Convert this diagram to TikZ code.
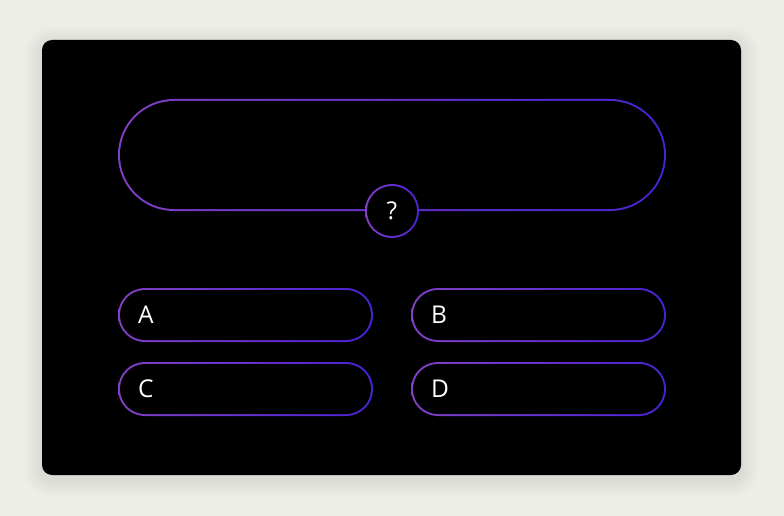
\documentclass[tikz,border=0pt]{standalone}
\usepackage{fontspec}
\setmainfont{Open Sans}
\usetikzlibrary{shapes.misc}
\definecolor{pagebg}{HTML}{EEEEE8}
\definecolor{glowleft}{HTML}{8240C6}
\definecolor{glowright}{HTML}{4A22D4}

\begin{document}
\begin{tikzpicture}[x=1pt,y=-1pt]
  \tikzstyle{rim}=[rounded rectangle,inner sep=0pt,left color=glowleft,right color=glowright]
  \tikzstyle{hole}=[rounded rectangle,inner sep=0pt,fill=black]
  \tikzstyle{answer rim}=[rim,minimum width=255pt,minimum height=54pt]
  \tikzstyle{answer}=[hole,minimum width=251pt,minimum height=50pt]
  \tikzstyle{letter}=[text=white,inner sep=0pt,font=\fontsize{24.5}{24.5}\selectfont]

  \useasboundingbox[fill=pagebg] (0,0) rectangle (784,516);
  % card with soft shadow
  \foreach \d in {2,4,...,18}
    \fill[black,opacity=0.006,rounded corners=10pt+\d pt] (42-\d,40-\d+4) rectangle (741+\d,475+\d+4);
  \fill[black,rounded corners=10pt] (42,40) rectangle (741,475);

  % question
  \node[rim,minimum width=548pt,minimum height=112pt] (question rim) at (392,155) {};
  \node[hole,minimum width=544pt,minimum height=108pt] (question) at (question rim) {};
  \node[circle,inner sep=0pt,minimum size=54pt,left color=glowleft,right color=glowright] (mark rim) at (392,211) {};
  \node[circle,inner sep=0pt,minimum size=50pt,fill=black] (mark) at (mark rim) {};
  \node[letter] at (mark) {?};

  % answers
  \node[answer rim] (a rim) at (245.5,315) {};
  \node[answer] (a) at (a rim) {};
  \node[answer rim] (b rim) at (538.5,315) {};
  \node[answer] (b) at (b rim) {};
  \node[answer rim] (c rim) at (245.5,389) {};
  \node[answer] (c) at (c rim) {};
  \node[answer rim] (d rim) at (538.5,389) {};
  \node[answer] (d) at (d rim) {};

  \node[letter,anchor=west] at ([xshift=18pt]a.west) {A};
  \node[letter,anchor=west] at ([xshift=18pt]b.west) {B};
  \node[letter,anchor=west] at ([xshift=18pt]c.west) {C};
  \node[letter,anchor=west] at ([xshift=18pt]d.west) {D};
\end{tikzpicture}
\end{document}
